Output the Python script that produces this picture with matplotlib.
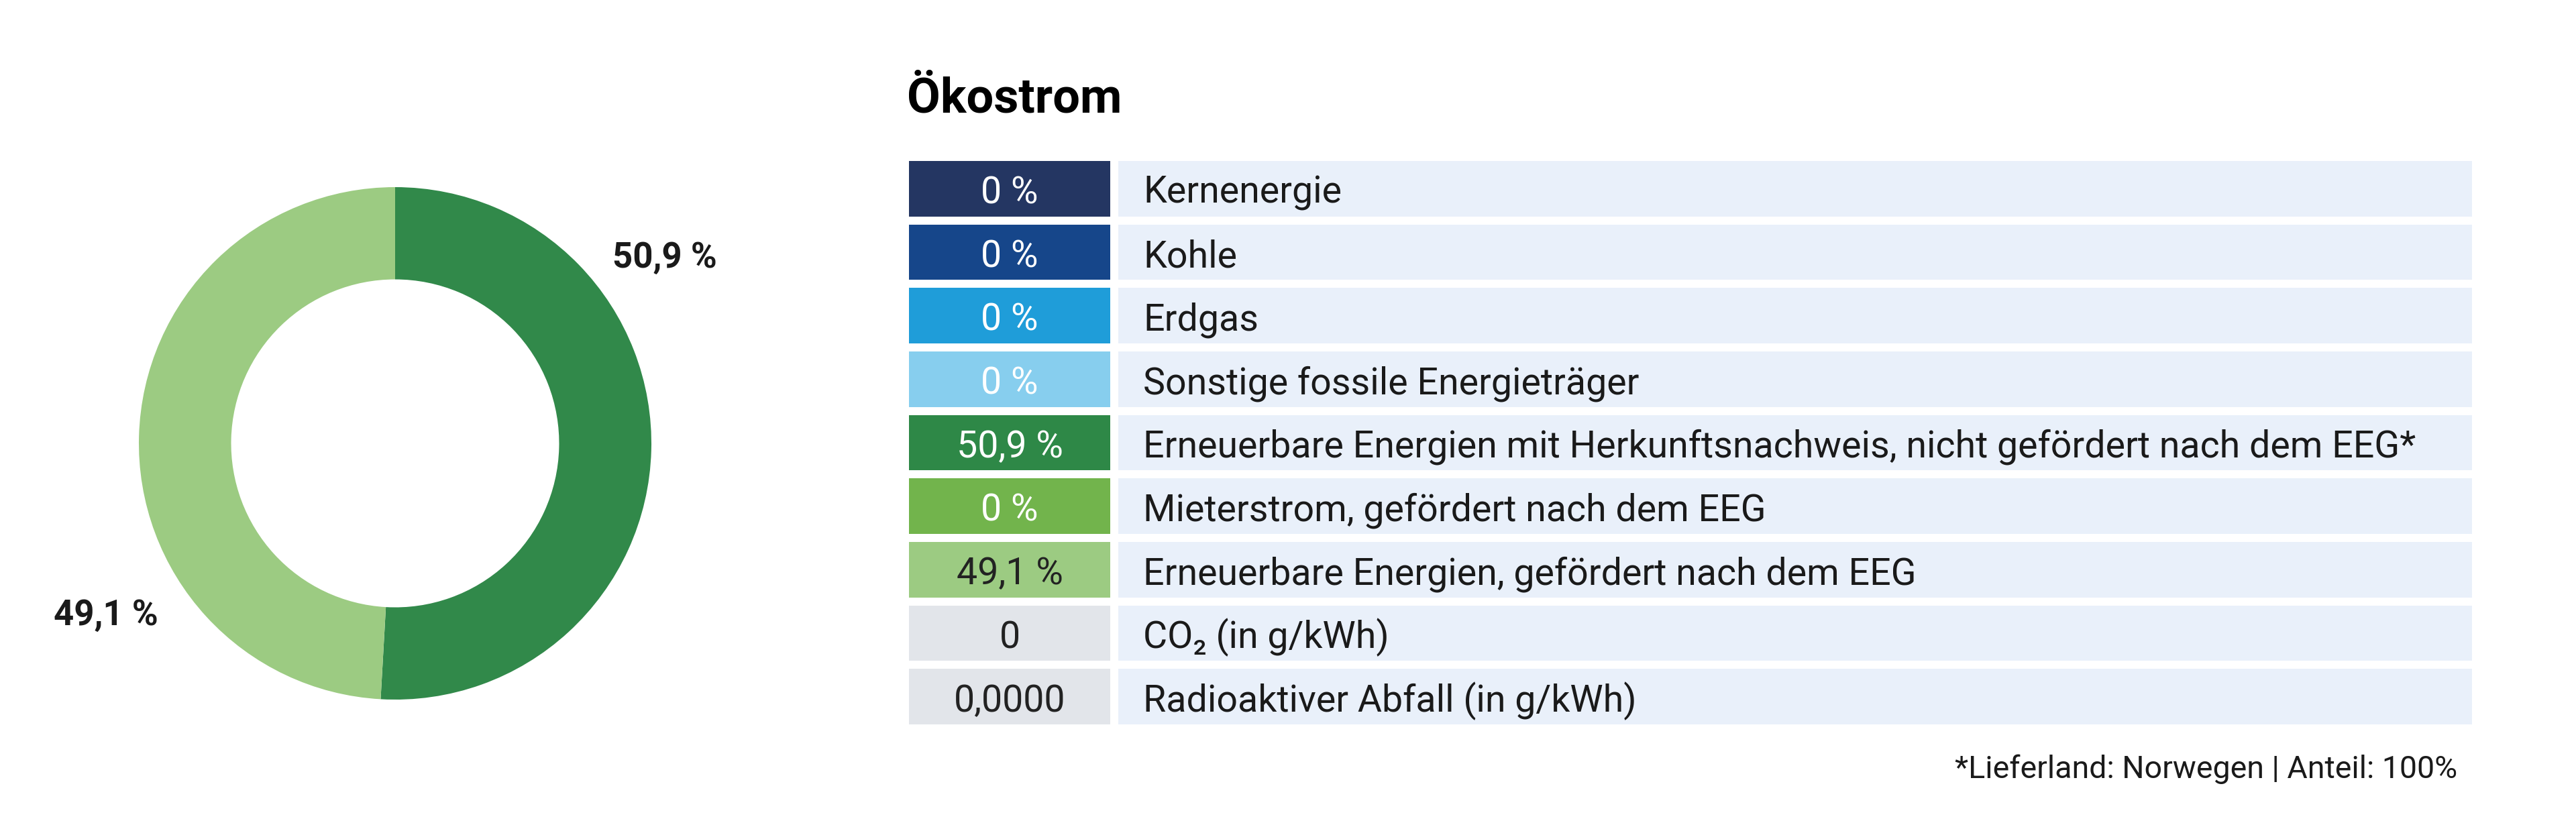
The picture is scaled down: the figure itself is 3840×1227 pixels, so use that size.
import matplotlib
matplotlib.use("Agg")
import matplotlib.pyplot as plt

plt.rcParams['font.family'] = ['Roboto', 'DejaVu Sans']

# data
title = "Ökostrom"
row_values = ["0 %", "0 %", "0 %", "0 %", "50,9 %", "0 %", "49,1 %", "0", "0,0000"]
row_labels = [
    "Kernenergie",
    "Kohle",
    "Erdgas",
    "Sonstige fossile Energieträger",
    "Erneuerbare Energien mit Herkunftsnachweis, nicht gefördert nach dem EEG*",
    "Mieterstrom, gefördert nach dem EEG",
    "Erneuerbare Energien, gefördert nach dem EEG",
    "CO₂ (in g/kWh)",
    "Radioaktiver Abfall (in g/kWh)",
]
row_colors = ["#243662", "#16468a", "#1f9dd9", "#87ceee", "#2e8847",
              "#72b44c", "#9ccb82", "#e2e5ea", "#e2e5ea"]
row_text_colors = ["white", "white", "white", "white", "white",
                   "white", "#222222", "#222222", "#222222"]
label_bg = "#e9f0fa"

donut_values = [50.9, 49.1]
donut_labels = ["50,9 %", "49,1 %"]
donut_colors = ["#31894a", "#9ccb82"]
footnote = "*Lieferland: Norwegen | Anteil: 100%"

W, H = 3840, 1227
fig = plt.figure(figsize=(W / 100, H / 100), dpi=100)

# donut
cx, cy, r = 589, 661, 382
ax_d = fig.add_axes([(cx - r) / W, 1 - (cy + r) / H, 2 * r / W, 2 * r / H])
ax_d.pie(donut_values, colors=donut_colors, startangle=90, counterclock=False,
         wedgeprops=dict(width=0.36, linewidth=0))
ax_d.set_xlim(-1, 1)
ax_d.set_ylim(-1, 1)
ax_d.axis('off')
ax_d.text(1.052, 0.725, donut_labels[0], ha='center', va='center',
          fontsize=38, fontweight='bold', color='#1a1a1a', clip_on=False)
ax_d.text(-1.128, -0.672, donut_labels[1], ha='center', va='center',
          fontsize=38, fontweight='bold', color='#1a1a1a', clip_on=False)

# table
x0, x1, y0, y1 = 1355, 3685, 240, 1080
ax_t = fig.add_axes([x0 / W, 1 - y1 / H, (x1 - x0) / W, (y1 - y0) / H])
n = len(row_labels)
h = 83 / 95
ypos = list(range(n))
ax_t.barh(ypos, [300] * n, left=0, height=h, color=row_colors, linewidth=0)
ax_t.barh(ypos, [x1 - x0 - 312] * n, left=312, height=h, color=label_bg, linewidth=0)
for i in range(n):
    ax_t.text(150, i + 0.07, row_values[i], ha='center', va='center',
              fontsize=40, color=row_text_colors[i])
    ax_t.text(349, i + 0.07, row_labels[i], ha='left', va='center',
              fontsize=40, color='#1a1a1a')
ax_t.set_xlim(0, x1 - x0)
ax_t.set_ylim(n - 1 + h / 2, -h / 2)
ax_t.axis('off')

fig.text(1352 / W, 1 - 168 / H, title, ha='left', va='baseline',
         fontsize=52, fontweight='bold', color='black')
fig.text(3663 / W, 1 - 1160 / H, footnote, ha='right', va='baseline',
         fontsize=33.5, color='#1a1a1a')

fig.savefig("out.png", dpi=100, facecolor='white')
